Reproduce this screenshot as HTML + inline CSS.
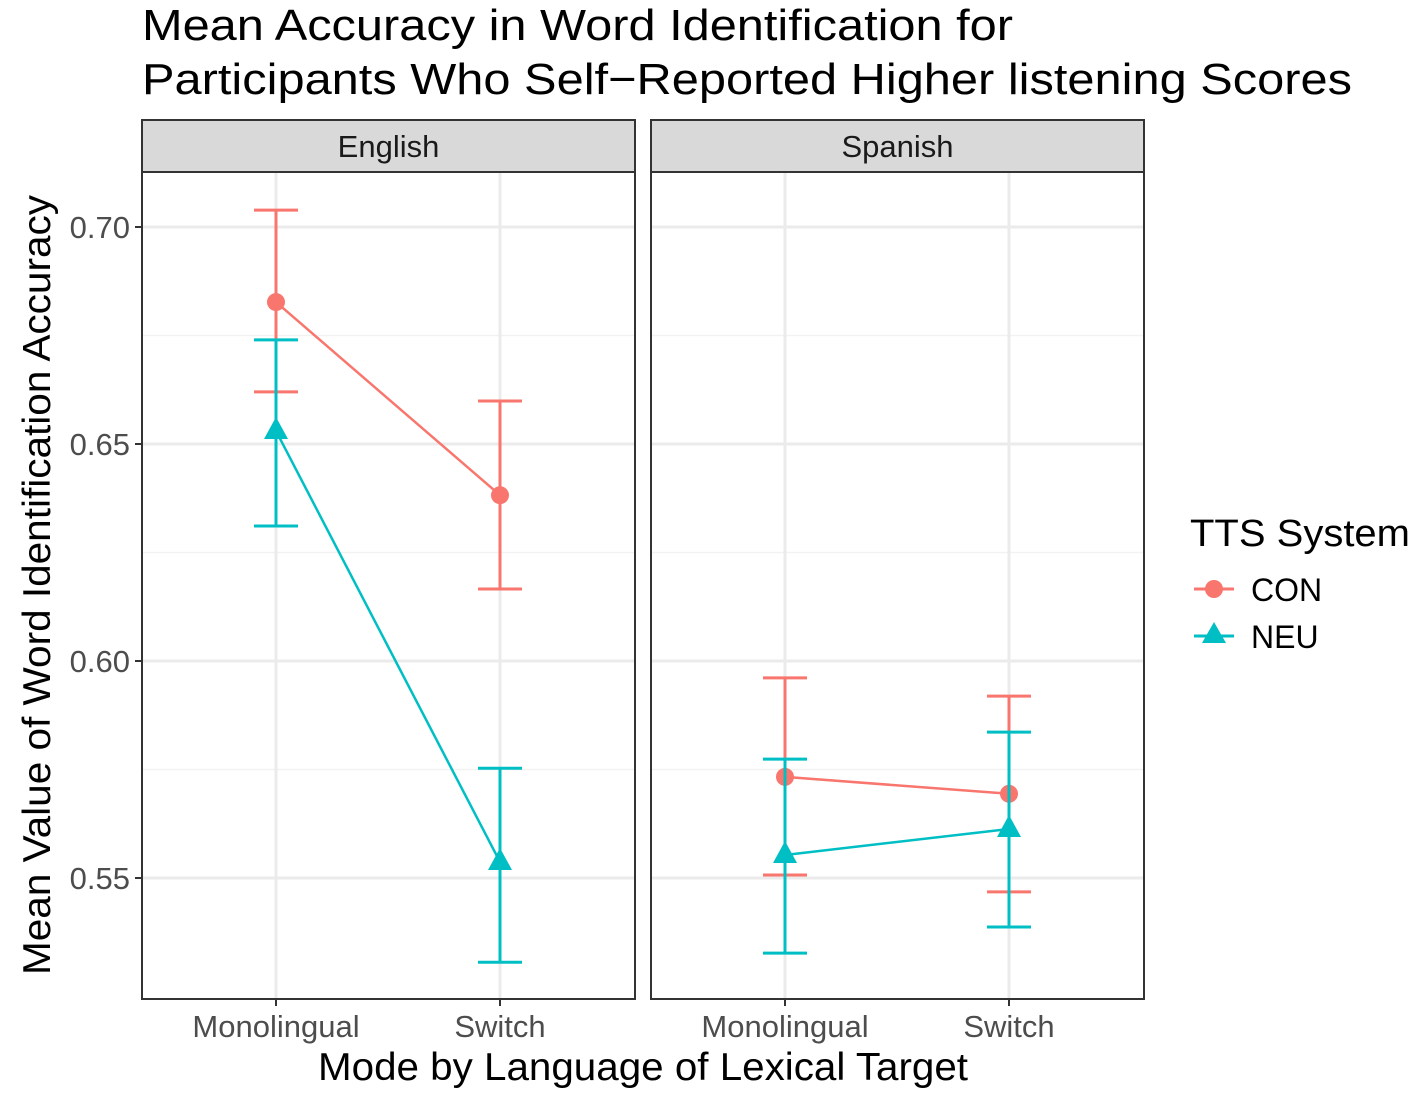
<!DOCTYPE html>
<html><head><meta charset="utf-8"><style>
body{margin:0;background:#fff;}
svg text{font-family:"Liberation Sans",Arial,sans-serif;}
</style></head><body>
<svg id="chart" width="1418" height="1099" xmlns="http://www.w3.org/2000/svg">
<text x="142" y="40" font-size="44" fill="#000" textLength="871" lengthAdjust="spacingAndGlyphs">Mean Accuracy in Word Identification for</text>
<text x="142" y="94" font-size="44" fill="#000" textLength="1210" lengthAdjust="spacingAndGlyphs">Participants Who Self−Reported Higher listening Scores</text>
<g id="panels"></g>
<text x="318" y="1080" font-size="39" fill="#000" textLength="650" lengthAdjust="spacingAndGlyphs">Mode by Language of Lexical Target</text>
<text transform="translate(50,975) rotate(-90)" font-size="39" fill="#000" textLength="780" lengthAdjust="spacingAndGlyphs">Mean Value of Word Identification Accuracy</text>
<g>
<text x="1190" y="546" font-size="38" fill="#000" textLength="220" lengthAdjust="spacingAndGlyphs">TTS System</text>
<g>
<line x1="1194" y1="589" x2="1234" y2="589" stroke="#F8766D" stroke-width="3"/>
<circle cx="1214" cy="589" r="9" fill="#F8766D"/>
<text x="1251" y="601" font-size="32" fill="#000">CON</text></g>
<g>
<line x1="1194" y1="636" x2="1234" y2="636" stroke="#00BFC4" stroke-width="3"/>
<polygon points="1214,622 1226,643 1202,643" fill="#00BFC4"/>
<text x="1251" y="648" font-size="32" fill="#000">NEU</text></g>
</g>
</svg>
<script>
const panels = ["English","Spanish"];
const categories = ["Monolingual","Switch"];
const conMean = [[0.6827,0.6382],[0.5733,0.5694]];
const conLow  = [[0.662,0.6166],[0.5507,0.5468]];
const conHigh = [[0.7039,0.6599],[0.5961,0.5919]];
const neuMean = [[0.653,0.5537],[0.5553,0.5613]];
const neuLow  = [[0.6311,0.5306],[0.5327,0.5387]];
const neuHigh = [[0.674,0.5753],[0.5774,0.5836]];
const yTicks = [0.55,0.60,0.65,0.70];
const yTickLabels = ["0.55","0.60","0.65","0.70"];
const yMinor = [0.575,0.625,0.675];

const NS="http://www.w3.org/2000/svg";
const g=document.getElementById("panels");
function el(t,a,p){const e=document.createElementNS(NS,t);for(const k in a)e.setAttribute(k,a[k]);(p||g).appendChild(e);return e;}
const yTop=172,yBot=999;
function y(v){return 227+(0.70-v)*4340;}
const pX=[142,651],pW=493;
function x(p,i){return pX[p]+134+i*224;}
const CON="#F8766D",NEU="#00BFC4";
panels.forEach((name,p)=>{
  const pg=el("g",{});
  
  
  const strip=el("rect",{x:pX[p],y:120,width:pW,height:52,fill:"#D9D9D9",stroke:"#333","stroke-width":2},pg);
  
  
  const st=el("text",{x:pX[p]+pW/2,y:157,"font-size":31,"text-anchor":"middle",fill:"#1a1a1a"},pg);st.textContent=name;
  
  
  yMinor.forEach(v=>el("line",{x1:pX[p],x2:pX[p]+pW,y1:y(v),y2:y(v),stroke:"#F2F2F2","stroke-width":1.5},pg));
  yTicks.forEach(v=>el("line",{x1:pX[p],x2:pX[p]+pW,y1:y(v),y2:y(v),stroke:"#EBEBEB","stroke-width":3},pg));
  categories.forEach((c,i)=>{
    el("line",{x1:x(p,i),x2:x(p,i),y1:yTop,y2:yBot,stroke:"#EBEBEB","stroke-width":3},pg);
    el("line",{x1:x(p,i),x2:x(p,i),y1:yBot,y2:yBot+7,stroke:"#333","stroke-width":2},pg);
    const t=el("text",{x:x(p,i),y:1037,"font-size":31,"text-anchor":"middle",fill:"#4D4D4D"},pg);t.textContent=c;
    
    
  });
  [[conMean,conLow,conHigh,CON,"con"],[neuMean,neuLow,neuHigh,NEU,"neu"]].forEach(([m,lo,hi,col,key])=>{
    const ln=el("polyline",{points:categories.map((c,i)=>x(p,i)+","+y(m[p][i])).join(" "),fill:"none",stroke:col,"stroke-width":2.5},pg);
    
    
    categories.forEach((c,i)=>{
      const cx=x(p,i);
      const eb=el("path",{d:`M${cx-22},${y(hi[p][i])}H${cx+22}M${cx},${y(hi[p][i])}V${y(lo[p][i])}M${cx-22},${y(lo[p][i])}H${cx+22}`,stroke:col,"stroke-width":3,fill:"none"},pg);
      
      
      let pt;
      if(key==="con") pt=el("circle",{cx:cx,cy:y(m[p][i]),r:9,fill:col},pg);
      else {const yy=y(m[p][i]);pt=el("polygon",{points:`${cx},${yy-14} ${cx+12},${yy+8} ${cx-12},${yy+8}`,fill:col},pg);}
      
      
    });
  });
  const bd=el("rect",{x:pX[p],y:yTop,width:pW,height:yBot-yTop,fill:"none",stroke:"#333","stroke-width":2},pg);
  
  
});
yTicks.forEach((v,i)=>{
  el("line",{x1:135,x2:142,y1:y(v),y2:y(v),stroke:"#333","stroke-width":2});
  const t=el("text",{x:130,y:y(v)+11,"font-size":31,"text-anchor":"end",fill:"#4D4D4D"});t.textContent=yTickLabels[i];
  
  
});
</script>
</body></html>
